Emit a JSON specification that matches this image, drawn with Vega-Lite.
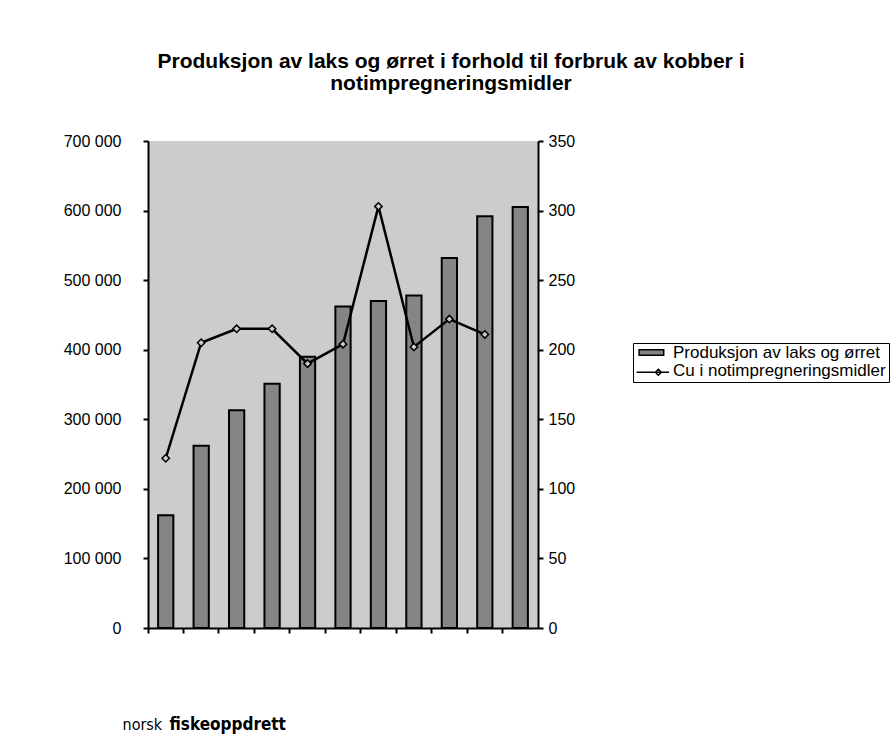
{
  "$schema": "https://vega.github.io/schema/vega-lite/v6.json",
  "autosize": {"type": "none"},
  "width": 390,
  "height": 487,
  "padding": {"left": 148, "top": 141, "right": 358, "bottom": 117},
  "background": "white",
  "config": {
    "font": "Liberation Sans",
    "locale": {"number": {"decimal": ",", "thousands": " ", "grouping": [3], "currency": ["", " kr"]}},
    "view": {"fill": "#cccccc", "stroke": null},
    "axis": {"domainColor": "black", "domainWidth": 2, "tickColor": "black", "tickWidth": 2, "labelColor": "black", "labelFont": "Liberation Sans", "labelFontSize": 16, "grid": false},
    "legend": {
      "orient": "none",
      "cornerRadius": 0,
      "labelFont": "Liberation Sans",
      "labelFontSize": 17,
      "labelColor": "black",
      "labelLimit": 400,
      "labelOffset": 20,
      "symbolSize": 144
    }
  },
  "title": {
    "text": ["Produksjon av laks og ørret i forhold til forbruk av kobber i", "notimpregneringsmidler"],
    "font": "Liberation Sans",
    "fontSize": 21,
    "fontWeight": "bold",
    "lineHeight": 22,
    "color": "black",
    "anchor": "middle",
    "dx": 108,
    "offset": 39
  },
  "data": {
    "values": [
      {"i": 1, "prod": 162000, "cu": 122},
      {"i": 2, "prod": 262000, "cu": 205},
      {"i": 3, "prod": 313000, "cu": 215},
      {"i": 4, "prod": 351000, "cu": 215},
      {"i": 5, "prod": 390000, "cu": 190},
      {"i": 6, "prod": 462000, "cu": 204},
      {"i": 7, "prod": 470000, "cu": 303},
      {"i": 8, "prod": 478000, "cu": 202},
      {"i": 9, "prod": 532000, "cu": 222},
      {"i": 10, "prod": 592000, "cu": 211},
      {"i": 11, "prod": 605000, "cu": null}
    ]
  },
  "encoding": {
    "x": {
      "field": "i",
      "type": "ordinal",
      "scale": {"paddingInner": 0, "paddingOuter": 0},
      "axis": {"labels": false, "title": null, "bandPosition": 0, "tickSize": 5, "domainWidth": 2}
    }
  },
  "layer": [
    {
      "mark": {"type": "bar", "stroke": "black", "strokeWidth": 2, "width": {"band": 0.43}},
      "encoding": {
        "y": {
          "field": "prod",
          "type": "quantitative",
          "scale": {"domain": [0, 700000], "nice": false},
          "axis": {
            "orient": "left",
            "values": [0, 100000, 200000, 300000, 400000, 500000, 600000, 700000],
            "format": ",d",
            "tickSize": 5,
            "labelPadding": 22,
            "title": "norsk",
            "titleAngle": 0,
            "titleX": -26,
            "titleY": 588,
            "titleAlign": "left",
            "titleBaseline": "alphabetic",
            "titleFont": "Liberation Sans Narrow, DejaVu Sans Condensed, Liberation Sans",
            "titleFontSize": 16,
            "titleFontWeight": "normal",
            "titleColor": "black"
          }
        },
        "fill": {
          "datum": "Produksjon av laks og ørret",
          "scale": {"domain": ["Produksjon av laks og ørret"], "range": ["#858585"]},
          "legend": {
            "title": null,
            "legendX": 488,
            "legendY": 203,
            "padding": 0,
            "strokeColor": null,
            "fillColor": null,
            "symbolType": "M-0.9,-0.45H3.2V0.45H-0.9Z",
            "symbolStrokeColor": "black",
            "symbolStrokeWidth": 1.5
          }
        }
      }
    },
    {
      "transform": [{"filter": "isValid(datum.cu)"}],
      "encoding": {
        "y": {
          "field": "cu",
          "type": "quantitative",
          "scale": {"domain": [0, 350], "nice": false},
          "axis": {
            "orient": "right",
            "values": [0, 50, 100, 150, 200, 250, 300, 350],
            "tickSize": 5,
            "labelPadding": 5,
            "title": "fiskeoppdrett",
            "titleAngle": 0,
            "titleX": -369,
            "titleY": 588,
            "titleAlign": "left",
            "titleBaseline": "alphabetic",
            "titleFont": "Liberation Sans Narrow, DejaVu Sans Condensed, Liberation Sans",
            "titleFontSize": 17,
            "titleFontWeight": "bold",
            "titleColor": "black"
          }
        }
      },
      "layer": [
        {
          "mark": {"type": "line", "strokeWidth": 2.5},
          "encoding": {
            "stroke": {
              "datum": "Cu i notimpregneringsmidler",
              "scale": {"domain": ["Cu i notimpregneringsmidler"], "range": ["black"]},
              "legend": {
                "title": " ",
                "titleOrient": "top",
                "titleFontSize": 1,
                "titlePadding": 15,
                "legendX": 485,
                "legendY": 202,
                "padding": 3,
                "strokeColor": "black",
                "fillColor": null,
                "symbolType": "M-1.3,0.3H4.1M1.8,0.3L2.3,-0.2L2.8,0.3L2.3,0.8Z",
                "symbolFillColor": "white",
                "symbolStrokeWidth": 1.5
              }
            }
          }
        },
        {
          "mark": {"type": "point", "shape": "diamond", "size": 55, "filled": true, "fill": "#cccccc", "stroke": "black", "strokeWidth": 1.5, "opacity": 1}
        }
      ]
    }
  ],
  "resolve": {"scale": {"y": "independent"}}
}
